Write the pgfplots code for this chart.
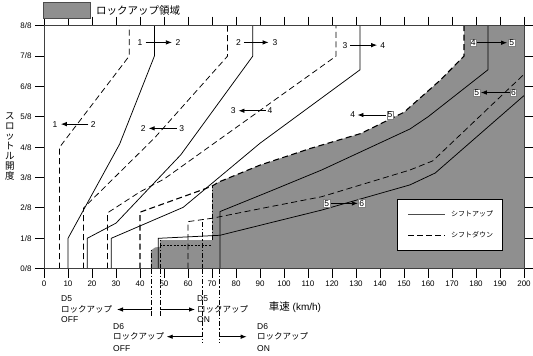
\documentclass[border=0pt]{standalone}
\usepackage{fontspec}
\setmainfont{Liberation Sans}
\newfontfamily\jp{Noto Sans CJK JP}
\usepackage{pgfplots}
\pgfplotsset{compat=1.18}
\usetikzlibrary{arrows.meta}
\definecolor{lockgray}{gray}{0.56}
\tikzset{
  up/.style={black, line width=0.75pt},
  down/.style={black, line width=0.75pt, dash pattern=on 6pt off 3.5pt},
  dd/.style={black, line width=0.7pt, dash pattern=on 5pt off 2pt on 1.5pt off 2pt},
  lab/.style={font=\fontsize{8.5}{9}\selectfont, inner sep=0.8pt},
  blab/.style={font=\fontsize{8.5}{9}\selectfont, inner sep=0.8pt, fill=white, draw=black!50, line width=0.3pt},
  arr/.style={-{Latex[length=6pt,width=4.5pt]}, line width=0.8pt, black},
  ann/.style={anchor=west, inner sep=0pt, font=\fontsize{8.5}{9}\selectfont},
  annj/.style={anchor=west, inner sep=0pt, font=\jp\fontsize{8.5}{9}\selectfont},
}
\begin{document}
\begin{tikzpicture}[x=1pt,y=1pt]
\begin{axis}[at={(44pt,87.3pt)}, anchor=origin, scale only axis,
  width=480pt, height=243pt,
  xmin=0, xmax=200, ymin=0, ymax=8,
  xtick={0,10,...,200}, ytick={0,...,8},
  yticklabels={0/8,1/8,2/8,3/8,4/8,5/8,6/8,7/8,8/8},
  tick align=outside, major tick length=9pt,
  tick style={black, line width=0.9pt},
  axis line style={black!75, line width=1pt},
  ticklabel style={font=\fontsize{8}{9}\selectfont},
  /pgf/number format/assume math mode=true,
  clip=false, axis on top=true,
]
% lock-up region
\addplot[fill=lockgray, draw=none, mark=none] coordinates {(44.5,0) (44.5,0.6) (46.3,0.7) (48.3,0.72) (48.3,0.94) (70,0.94) (70,2.72) (73,2.86) (90,3.41) (111,3.96) (132,4.45) (150,5.15) (165,6.2) (175,7) (175,8) (200,8) (200,0)} -- cycle;
% 1-2
\addplot[up, mark=none] coordinates {(10,0) (10,1) (31.5,4.1) (46,7) (46,8)};
\addplot[down, mark=none] coordinates {(6.5,0) (6.5,4) (35.5,7) (35.5,8)};
% 2-3
\addplot[up, mark=none] coordinates {(18,0) (18,1) (30,1.5) (57,3.75) (87,7) (87,8)};
\addplot[down, mark=none] coordinates {(16.5,0) (16.5,2) (46,4.3) (76.5,7) (76.5,8)};
% 3-4
\addplot[up, mark=none] coordinates {(28,0) (28,1) (58,2.02) (90,4.13) (131.7,6.55) (131.7,8)};
\addplot[down, mark=none] coordinates {(26.5,0) (26.5,1.84) (40,2.53) (50,2.95) (121.7,7) (121.7,8)};
% 4-5
\addplot[down, line width=1.1pt, mark=none] coordinates {(40,0) (40,1.86) (65.7,2.59) (70,2.72) (73,2.86) (90,3.41) (111,3.96) (132,4.45) (150,5.15) (165,6.2) (175,7) (175,8)};
\addplot[up, mark=none] coordinates {(73.3,0) (73.3,1.88) (94.2,2.55) (115.7,3.25) (152.5,4.6) (160,5.0) (185,6.55) (185,8)};
% 5-6
\addplot[down, mark=none] coordinates {(60,0) (60,1.55) (70,1.66) (94.2,2.04) (115.7,2.37) (152.5,3.25) (162,3.55) (200,6.4)};
\addplot[up, mark=none] coordinates {(47.6,0) (47.6,1) (73.3,1.1) (94.2,1.51) (115.7,1.93) (152.5,2.76) (163,3.15) (200,5.7)};
% lock-up limits
\addplot[dd, mark=none] coordinates {(44.9,0) (44.9,0.6)};
\addplot[dd, mark=none] coordinates {(48.3,0) (48.3,0.94)};
\addplot[dd, mark=none] coordinates {(66,0) (66,1.62)};
\addplot[dd, mark=none] coordinates {(70,0.94) (70,2.72)};
\addplot[black, line width=0.5pt, dash pattern=on 2pt off 1.5pt, mark=none] coordinates {(48.3,0.78) (70,0.78)};
% shift labels
\node[lab] at (axis cs:40,7.45) {1}; \draw[arr] (axis cs:42.3,7.45) -- (axis cs:53.3,7.45); \node[lab] at (axis cs:55.8,7.45) {2};
\node[lab] at (axis cs:4.6,4.76) {1}; \draw[arr] (axis cs:18.5,4.76) -- (axis cs:7,4.76); \node[lab] at (axis cs:20.5,4.76) {2};
\node[lab] at (axis cs:81,7.45) {2}; \draw[arr] (axis cs:83.3,7.45) -- (axis cs:93.6,7.45); \node[lab] at (axis cs:96.2,7.45) {3};
\node[lab] at (axis cs:41.4,4.62) {2}; \draw[arr] (axis cs:55.3,4.62) -- (axis cs:43.6,4.62); \node[lab] at (axis cs:57.4,4.62) {3};
\node[lab] at (axis cs:125.4,7.36) {3}; \draw[arr] (axis cs:127.5,7.36) -- (axis cs:138.8,7.36); \node[lab] at (axis cs:141.1,7.36) {4};
\node[lab] at (axis cs:78.9,5.2) {3}; \draw[arr] (axis cs:92.3,5.2) -- (axis cs:81,5.2); \node[lab] at (axis cs:94.2,5.2) {4};
\draw[arr] (axis cs:180.5,7.44) -- (axis cs:193,7.44); \node[blab] at (axis cs:178.9,7.44) {4}; \node[blab] at (axis cs:194.9,7.44) {5};
\draw[arr] (axis cs:142.5,5.06) -- (axis cs:130.6,5.06); \node[lab] at (axis cs:128.6,5.06) {4}; \node[blab] at (axis cs:144.2,5.06) {5};
\draw[arr] (axis cs:194,5.8) -- (axis cs:182,5.8); \node[blab] at (axis cs:180.3,5.8) {5}; \node[blab] at (axis cs:195.6,5.8) {6};
\draw[arr] (axis cs:119.5,2.15) -- (axis cs:130.8,2.15); \node[blab] at (axis cs:117.8,2.15) {5}; \node[blab] at (axis cs:132.4,2.15) {6};
\end{axis}
% legend box inside
\draw[black, line width=0.9pt, fill=white] (397.7,156.7) rectangle (502.7,106);
\draw[black!70, line width=0.9pt] (408,141.7) -- (445,141.7);
\draw[black, line width=0.9pt, dash pattern=on 6pt off 3pt] (408,121) -- (445,121);
\node[anchor=west, inner sep=0pt, font=\jp\fontsize{7}{8}\selectfont] at (451,141.7) {シフトアップ};
\node[anchor=west, inner sep=0pt, font=\jp\fontsize{7}{8}\selectfont] at (451,121) {シフトダウン};
% top legend
\fill[lockgray] (43.3,337.7) rectangle (90.7,353.3);
\draw[black!70, line width=0.6pt] (43.3,337.7) rectangle (90.7,353.3);
\node[anchor=west, inner sep=0pt, font=\jp\fontsize{10.5}{11}\selectfont] at (96,345.5) {ロックアップ領域};
% y label
\node[inner sep=0pt, align=center, font=\jp\fontsize{9.5}{10}\selectfont] at (10,209) {ス\\ロ\\ッ\\ト\\ル\\開\\度};
% x label
\node[inner sep=0pt, font=\fontsize{10}{11}\selectfont] at (295,49.3) {{\jp\fontsize{10.5}{11}\selectfont 車速}\ (km/h)};
% lock-up annotations
\draw[dd] (151.7,87.3) -- (151.7,39.3);
\draw[dd] (160,87.3) -- (160,39.3);
\draw[dd] (202.7,87.3) -- (202.7,13);
\draw[dd] (219,87.3) -- (219,13);
\draw[arr] (151.7,46.5) -- (117,46.5);
\draw[arr] (160,46.5) -- (195,46.5);
\draw[arr] (202.7,19.3) -- (166.7,19.3);
\draw[arr] (219,19.3) -- (246.7,19.3);
\node[ann] at (61,57.7) {D5}; \node[annj] at (61,46.7) {ロックアップ}; \node[ann] at (61,36) {OFF};
\node[ann] at (197,57.7) {D5}; \node[annj] at (197,46.7) {ロックアップ}; \node[ann] at (197,36) {ON};
\node[ann] at (113,29.3) {D6}; \node[annj] at (113,19.3) {ロックアップ}; \node[ann] at (113,7.7) {OFF};
\node[ann] at (257,29.3) {D6}; \node[annj] at (257,19.3) {ロックアップ}; \node[ann] at (257,7.7) {ON};
\pgfresetboundingbox
\path[use as bounding box] (0,0) rectangle (533,356);
\end{tikzpicture}
\end{document}
